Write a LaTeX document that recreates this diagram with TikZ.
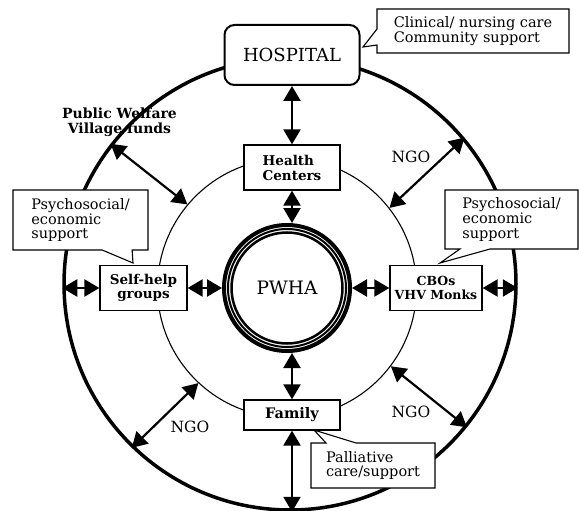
\documentclass[tikz,border=0pt]{standalone}
\usepackage{fontspec}
\setmainfont{DejaVu Serif}
\usepackage{tikz}
\usetikzlibrary{arrows.meta, shapes.callouts, positioning}

\begin{document}
\begin{tikzpicture}[x=1pt, y=-1pt, >={Triangle[length=15pt, width=17pt]},
    box/.style={draw, line width=1.3pt, fill=white, inner sep=0pt, align=center},
    note/.style={rectangle callout, draw, line width=1.1pt, fill=white, inner sep=0pt,
        align=left, font=\fontsize{14.5}{14.8}\selectfont},
    link/.style={<->, line width=2.4pt},
    tag/.style={font=\fontsize{15.5}{16}\selectfont}]
                % 1. Khung trang
                \path[use as bounding box, clip] (0,0) rectangle (579,511);
                
                % 2. Cac vong tron
                \node[circle, draw, line width=3.5pt, minimum size=452pt, inner sep=0pt] (outer) at (290,284) {};
                \node[circle, draw, line width=1.1pt, minimum size=259pt, inner sep=0pt] (inner) at (287,288) {};
                \node[circle, draw, fill=white, line width=4pt, minimum size=126pt, inner sep=0pt,
                    font=\fontsize{18.5}{18.5}\selectfont] (pwha) at (287,288) {PWHA};
                \draw[line width=2pt] (pwha.center) circle (59pt);
                \draw[line width=2.5pt] (pwha.center) circle (55.5pt);
                
                % 3. Cac chu thich
                \node[note, minimum width=192pt, minimum height=44pt, callout pointer width=16pt,
                    callout absolute pointer={(363,47)}] (cHosp) at (473,31) {Clinical/ nursing care\\Community support};
                \node[note, minimum width=135pt, minimum height=60pt, callout pointer width=30pt,
                    callout absolute pointer={(133,263)}] (cLeft) at (80.5,220) {Psychosocial/\\economic\\support};
                \node[note, minimum width=133pt, minimum height=59pt, callout pointer width=30pt,
                    callout absolute pointer={(440,263)}] (cRight) at (511.5,219.5) {Psychosocial/\\economic\\support};
                \node[note, minimum width=124pt, minimum height=45pt, callout pointer width=30pt,
                    callout absolute pointer={(314,430)}] (cFam) at (373,465.5) {Palliative\\care/support};
                
                % 4. Cac hop
                \node[box, rounded corners=10pt, line width=2pt, minimum width=135pt, minimum height=60pt,
                    font=\fontsize{18}{18}\selectfont] (hosp) at (292,55) {HOSPITAL};
                \node[box, minimum width=96pt, minimum height=45pt, align=left,
                    font=\bfseries\fontsize{13.5}{15}\selectfont] (hc) at (292,167.5) {Health\\Centers};
                \node[box, minimum width=87pt, minimum height=45pt,
                    font=\bfseries\fontsize{13.5}{13.5}\selectfont] (self) at (143.5,288) {Self-help\\groups};
                \node[box, minimum width=92pt, minimum height=45pt,
                    font=\bfseries\fontsize{12.5}{13.5}\selectfont] (cbo) at (436,288) {CBOs\\VHV Monks};
                \node[box, minimum width=96pt, minimum height=30pt,
                    font=\bfseries\fontsize{14.5}{14.5}\selectfont] (fam) at (292,415) {Family};
                
                % 5. Nhan
                \node[align=center, font=\bfseries\fontsize{14}{14.5}\selectfont] (welfare) at (119.5,122) {Public Welfare\\Village funds};
                \node[tag] (ngoA) at (411,157) {NGO};
                \node[tag] (ngoB) at (411,412) {NGO};
                \node[tag] (ngoC) at (190,427) {NGO};
                
                % 6. Mui ten hai chieu
                \draw[link] (hosp) -- (hc);
                \draw[link] (hc.south) -- (hc.south |- pwha.north);
                \draw[link] (fam.north) -- (fam.north |- pwha.south);
                \draw[link] (fam.south) -- (fam.south |- outer.south);
                \draw[link] (self.west) -- (self.west -| outer.west);
                \draw[link] (self.east) -- (pwha.west);
                \draw[link] (cbo.west) -- (pwha.east);
                \draw[link] (cbo.east) -- (cbo.east -| outer.east);
                \draw[link, line width=2.2pt] (inner.140) -- (outer.142);
                \draw[link, line width=2.2pt] (inner.38) -- (outer.40);
                \draw[link, line width=2.2pt] (inner.-37) -- (outer.-39);
                \draw[link, line width=2.2pt] (inner.-133) -- (outer.-134);
            \end{tikzpicture}
\end{document}
